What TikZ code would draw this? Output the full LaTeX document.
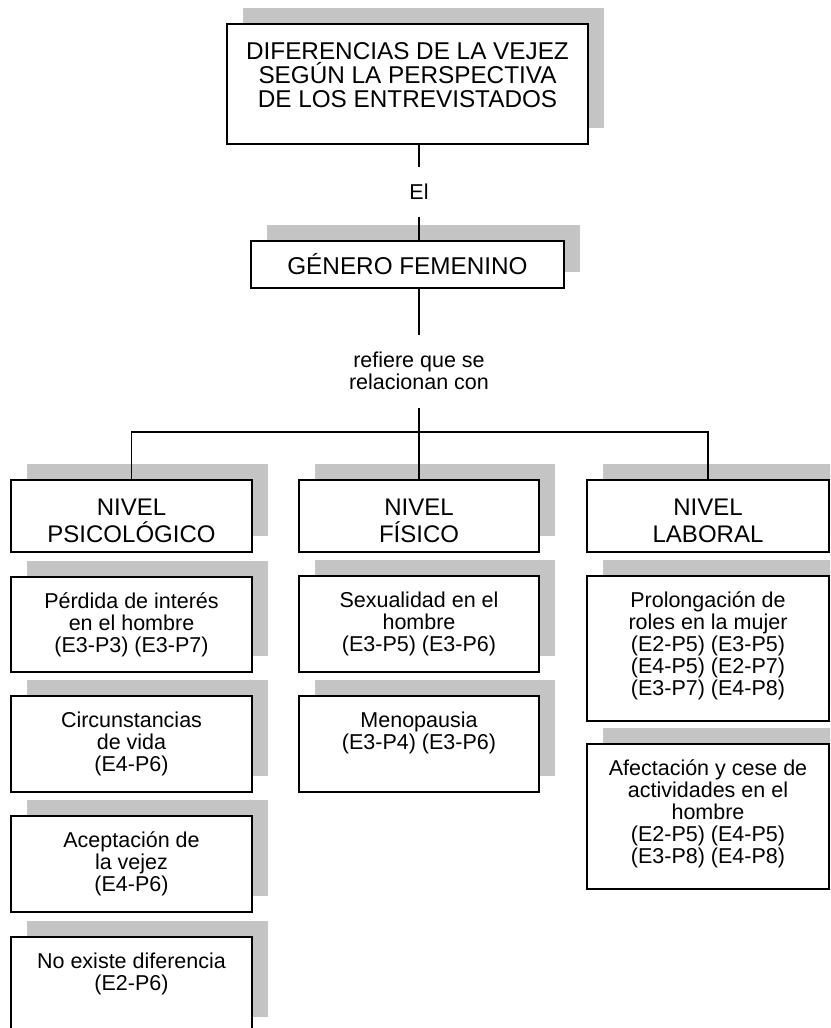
\documentclass[tikz,border=0pt]{standalone}
\usepackage{fontspec}
\setmainfont{Liberation Sans}
\usetikzlibrary{shadows}
\definecolor{shadowgray}{RGB}{196,196,196}
\newcommand{\bxtext}[4]{\parbox[c][#2pt][t]{#1pt}{\centering\rule{0pt}{#3pt}#4}}
\tikzset{
  box/.style={draw, line width=1.6pt, fill=white, inner sep=0pt, outer sep=0pt,
    drop shadow={shadow xshift=16pt, shadow yshift=16pt, fill=shadowgray, opacity=1}},
  bigfont/.style={font=\fontsize{24.3}{24}\selectfont},
  headfont/.style={font=\fontsize{24}{27.5}\selectfont},
  smallfont/.style={font=\fontsize{21.5}{22}\selectfont},
  link/.style={line width=1.6pt},
  label/.style={inner sep=0pt, outer sep=0pt, align=center, font=\fontsize{21.5}{22.5}\selectfont}
}
\begin{document}
\begin{tikzpicture}[x=1pt,y=-1pt]
\useasboundingbox (0,0) rectangle (830,1028);
\fill[white] (0,0) rectangle (830,1028);
\clip (0,0) rectangle (830,1028);

% top
\node[box,bigfont] (top) at (407.5,84) {\bxtext{361}{120}{35.3}{DIFERENCIAS DE LA VEJEZ\\SEGÚN LA PERSPECTIVA\\DE LOS ENTREVISTADOS}};
\node[label, minimum height=50pt] (el) at (419,192) {El};
\node[box,bigfont] (gen) at (407.5,264.5) {\bxtext{313}{47}{33}{GÉNERO FEMENINO}};
\node[label, minimum height=73pt] (ref) at (419,371) {refiere que se\\relacionan con};
\coordinate (bus) at (419,432);

% headings
\node[box,headfont] (psic) at (131.5,516) {\bxtext{241}{72}{35}{NIVEL\\PSICOLÓGICO}};
\node[box,headfont] (fis) at (419,516) {\bxtext{240}{72}{35}{NIVEL\\FÍSICO}};
\node[box,headfont] (lab) at (708,516) {\bxtext{242}{72}{35}{NIVEL\\LABORAL}};

% psicologico
\node[box,smallfont] (perd) at (131.5,624.5) {\bxtext{241}{95}{31}{Pérdida de interés\\en el hombre\\(E3-P3) (E3-P7)}};
\node[box,smallfont] (circ) at (131.5,744) {\bxtext{241}{96}{31}{Circunstancias\\de vida\\(E4-P6)}};
\node[box,smallfont] (acep) at (131.5,864) {\bxtext{241}{96}{31}{Aceptación de\\la vejez\\(E4-P6)}};
\node[box,smallfont] (noex) at (131.5,985) {\bxtext{241}{96}{31}{No existe diferencia\\(E2-P6)}};

% fisico
\node[box,smallfont] (sex) at (419,624) {\bxtext{240}{96}{31}{Sexualidad en el\\hombre\\(E3-P5) (E3-P6)}};
\node[box,smallfont] (meno) at (419,744) {\bxtext{240}{96}{31}{Menopausia\\(E3-P4) (E3-P6)}};

% laboral
\node[box,smallfont] (prol) at (708,648.5) {\bxtext{242}{145}{31}{Prolongación de\\roles en la mujer\\(E2-P5) (E3-P5)\\(E4-P5) (E2-P7)\\(E3-P7) (E4-P8)}};
\node[box,smallfont] (afec) at (708,816.5) {\bxtext{242}{145}{31}{Afectación y cese de\\actividades en el\\hombre\\(E2-P5) (E4-P5)\\(E3-P8) (E4-P8)}};

% connectors
\draw[link] (top.south -| el.north) -- (el.north);
\draw[link] (el.south) -- (el.south |- gen.north);
\draw[link] (gen.south -| ref.north) -- (ref.north);
\draw[link] (ref.south) -- (fis.north);
\draw[link] (psic.north) |- (bus) -| (lab.north);
\end{tikzpicture}
\end{document}
